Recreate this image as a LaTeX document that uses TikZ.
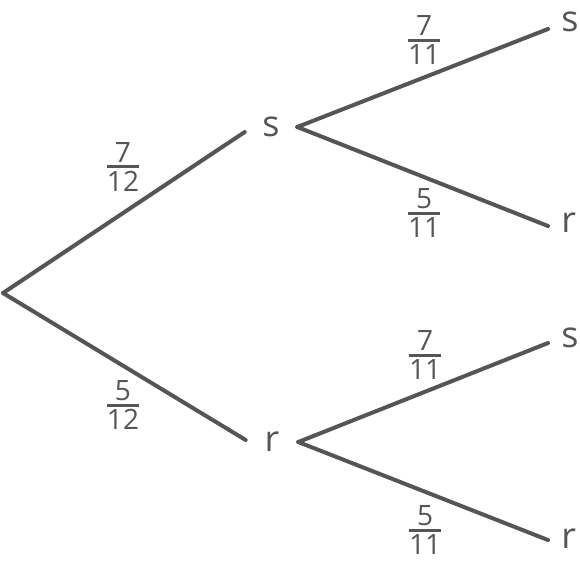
\documentclass[tikz,border=0pt]{standalone}
\usepackage{amsmath}
\usepackage{fontspec}
\setmainfont{Open Sans}
\definecolor{ink}{HTML}{555555}
\tikzstyle{branch} = [
  line width=3pt,
  ink,
  line cap=round,
]
\tikzstyle{event} = [
  rectangle,
  minimum width=39pt,
  inner sep=0pt,
  text=ink,
  font=\fontsize{27}{32}\selectfont
]
\tikzstyle{outcome} = [
  rectangle,
  anchor=west,
  inner xsep=9.75pt,
  inner ysep=0pt,
  text=ink,
  font=\fontsize{27}{32}\selectfont
]
\tikzstyle{prob} = [
  inner sep=0pt,
  text=ink,
  font=\fontsize{21}{25}\selectfont
]
\newcommand{\chance}[2]{$\genfrac{}{}{2.25pt}{1}{\mbox{#1}}{\mbox{#2}}$}

\begin{document}
\begin{tikzpicture}[x=0.75pt, y=-0.75pt]
    \useasboundingbox (0,0) rectangle (580,579);
    \coordinate (root) at (3,293);
    \node[event] (S) at (271,127) {s};
    \node[event] (R) at (272,442) {r};
    \node[outcome] (SS) at (548,22) {s};
    \node[outcome] (SR) at (548,223) {r};
    \node[outcome] (RS) at (548,338) {s};
    \node[outcome] (RR) at (548,539) {r};

    \draw[branch] (root) -- ([yshift=-3.75pt]S.west);
    \draw[branch] (root) -- ([yshift=1.5pt]R.west);
    \draw[branch] (S.east) -- ([yshift=-5.25pt]SS.west);
    \draw[branch] (S.east) -- ([yshift=-2.25pt]SR.west);
    \draw[branch] (R.east) -- ([yshift=-3.75pt]RS.west);
    \draw[branch] (R.east) -- ([yshift=-0.75pt]RR.west);

    \node[prob] (pS) at (123,167) {\chance{7}{12}};
    \node[prob] (pR) at (123,405) {\chance{5}{12}};
    \node[prob] (pSS) at (424,40) {\chance{7}{11}};
    \node[prob] (pSR) at (424,213) {\chance{5}{11}};
    \node[prob] (pRS) at (425,355) {\chance{7}{11}};
    \node[prob] (pRR) at (425,530) {\chance{5}{11}};
\end{tikzpicture}
\end{document}
